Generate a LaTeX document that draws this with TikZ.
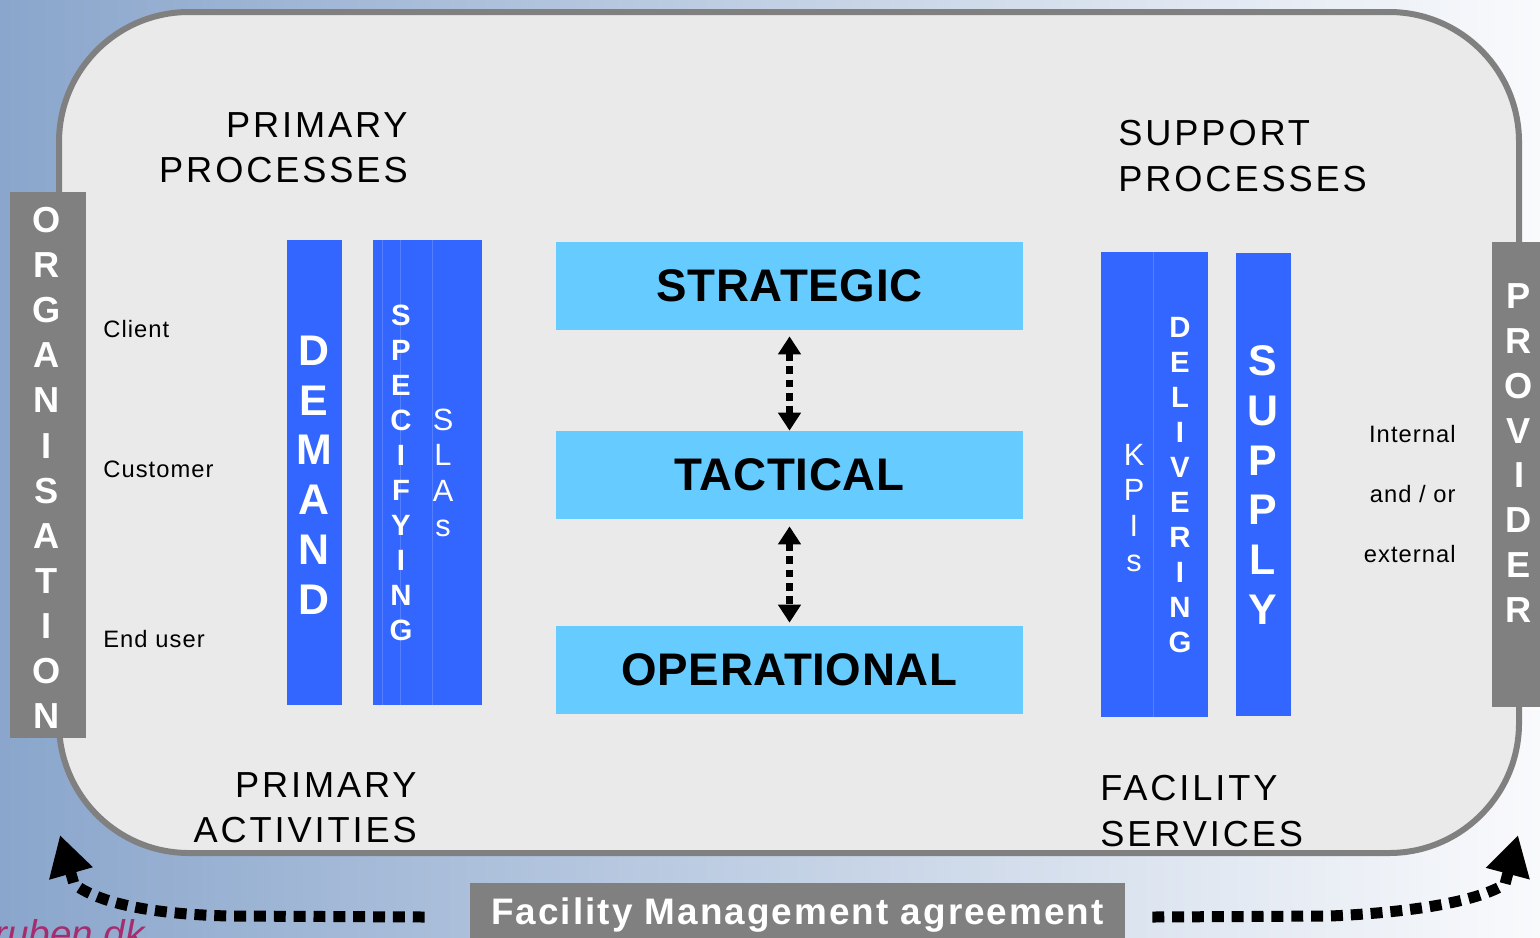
\documentclass[tikz,border=0pt]{standalone}
\usepackage{fontspec}
\setmainfont{Liberation Sans}
\newfontfamily\widefont[LetterSpace=8]{Liberation Sans}
\newfontfamily\smallfont[LetterSpace=4.5]{Liberation Sans}
\newfontfamily\levelfont[LetterSpace=1.5]{Liberation Sans}
\newfontfamily\agreefont[LetterSpace=5.5]{Liberation Sans}
\usetikzlibrary{positioning,arrows.meta}

\definecolor{bgleft}{RGB}{138,166,204}
\definecolor{bgright}{RGB}{249,250,252}
\definecolor{panel}{RGB}{234,234,234}
\definecolor{rim}{RGB}{128,128,128}
\definecolor{barblue}{RGB}{51,102,255}
\definecolor{seam}{RGB}{84,128,255}
\definecolor{levelblue}{RGB}{102,204,255}
\definecolor{plum}{RGB}{165,45,110}

\tikzset{
  head/.style={font=\widefont\fontsize{20.6}{26}\selectfont, inner sep=0pt},
  small/.style={font=\smallfont\fontsize{13.5}{16}\selectfont, inner sep=0pt},
  letters/.style={text=white, inner sep=0pt, align=center},
  level/.style={fill=levelblue, minimum width=9.34cm, minimum height=1.76cm, inner sep=0pt,
    font=\levelfont\bfseries\fontsize{26}{30}\selectfont},
  updown/.style={<->, >={Triangle[length=0.36cm,width=0.44cm]}, line width=0.14cm,
    dash pattern=on 4.5pt off 3pt},
  agree/.style={-{Triangle[length=0.8cm,width=0.85cm]}, line width=0.22cm,
    dash pattern=on 6.8pt off 4.5pt}
}

\begin{document}
\begin{tikzpicture}[x=0.02cm, y=-0.02cm]
\clip (0,0) rectangle (1540,937);
\shade[left color=bgleft, right color=bgright] (0,0) rectangle (1540,937);
% panel
\draw[rim, line width=0.12cm, fill=panel, rounded corners=2.6cm] (59,12) rectangle (1519,853);

% side bars
\fill[rim] (10,192) rectangle (86,738);
\fill[rim] (1492,242) rectangle (1545,707);
\node[letters, font=\bfseries\fontsize{20.6}{25.7}\selectfont] (organisation) at (47,468)
  {O\\R\\G\\A\\N\\I\\S\\A\\T\\I\\O\\N};
\node[letters, font=\bfseries\fontsize{20.6}{25.5}\selectfont] (provider) at (1519,453)
  {P\\R\\O\\V\\I\\D\\E\\R};

% blue columns
\fill[barblue] (287,240) rectangle (342,705);
\fill[barblue] (373,240) rectangle (482,705);
\draw[seam] (382,240) -- (382,705) (400,240) -- (400,705) (432,240) -- (432,705);
\fill[barblue] (1101,252) rectangle (1208,717);
\draw[seam] (1153,252) -- (1153,717);
\fill[barblue] (1236,253) rectangle (1291,716);

\node[letters, font=\bfseries\fontsize{24.4}{28.35}\selectfont] (demand) at (314,475) {D\\E\\M\\A\\N\\D};
\node[letters, font=\bfseries\fontsize{16.7}{19.9}\selectfont] (specifying) at (401,473)
  {S\\P\\E\\C\\I\\F\\Y\\I\\N\\G};
\node[letters, font=\fontsize{17.5}{20.1}\selectfont] (slas) at (443,473) {S\\L\\A\\s};
\node[letters, font=\fontsize{17.5}{20.1}\selectfont] (kpis) at (1134,508) {K\\P\\I\\s};
\node[letters, font=\bfseries\fontsize{16.7}{19.9}\selectfont] (delivering) at (1180,485)
  {D\\E\\L\\I\\V\\E\\R\\I\\N\\G};
\node[letters, font=\bfseries\fontsize{24.4}{28.35}\selectfont] (supply) at (1263,485) {S\\U\\P\\P\\L\\Y};

% levels
\node[level] (strategic) at (789.5,286) {STRATEGIC};
\node[level] (tactical) at (789.5,475) {TACTICAL};
\node[level] (operational) at (789.5,670) {OPERATIONAL};
\draw[updown, shorten <=0.12cm] (strategic) -- (tactical);
\draw[updown, shorten <=0.14cm, shorten >=0.06cm] (tactical) -- (operational);

% headings
\node[head, align=right, anchor=north east] (primproc) at (408,112) {PRIMARY\\PROCESSES};
\node[head, align=left, anchor=north west] (suppproc) at (1118,120) {SUPPORT\\PROCESSES};
\node[head, align=right, anchor=north east] (primact) at (417,772) {PRIMARY\\ACTIVITIES};
\node[head, align=left, anchor=north west] (facserv) at (1100,775) {FACILITY\\SERVICES};

% small labels
\node[small, anchor=base west] (client) at (103,337) {Client};
\node[small, anchor=base west] (customer) at (103,477) {Customer};
\node[small, anchor=base west] (enduser) at (103,647) {End user};
\node[small, anchor=base east] (internal) at (1456,442) {Internal};
\node[small, anchor=base east] (andor) at (1456,502) {and / or};
\node[small, anchor=base east] (external) at (1456,562) {external};

% agreement
\node[fill=rim, text=white, minimum width=13.1cm, minimum height=1.3cm, inner sep=0pt,
  font=\agreefont\bfseries\fontsize{21}{25}\selectfont] (fma) at (797.5,915) {Facility Management agreement};
\coordinate (orgend) at (60,835);
\coordinate (provend) at (1518,835);
\draw[agree] ([shift={(-45,2)}]fma.west) -- (230,916) .. controls (140,914) and (95,900) .. (74,884) -- (orgend);
\draw[agree] ([shift={(27,2)}]fma.east) -- (1330,916) .. controls (1420,912) and (1480,900) .. (1505,884) -- (provend);

\node[font=\itshape\fontsize{22}{26}\selectfont, text=plum, anchor=base west, inner sep=0pt] (site) at (-6,947) {ruben.dk};
\end{tikzpicture}
\end{document}
